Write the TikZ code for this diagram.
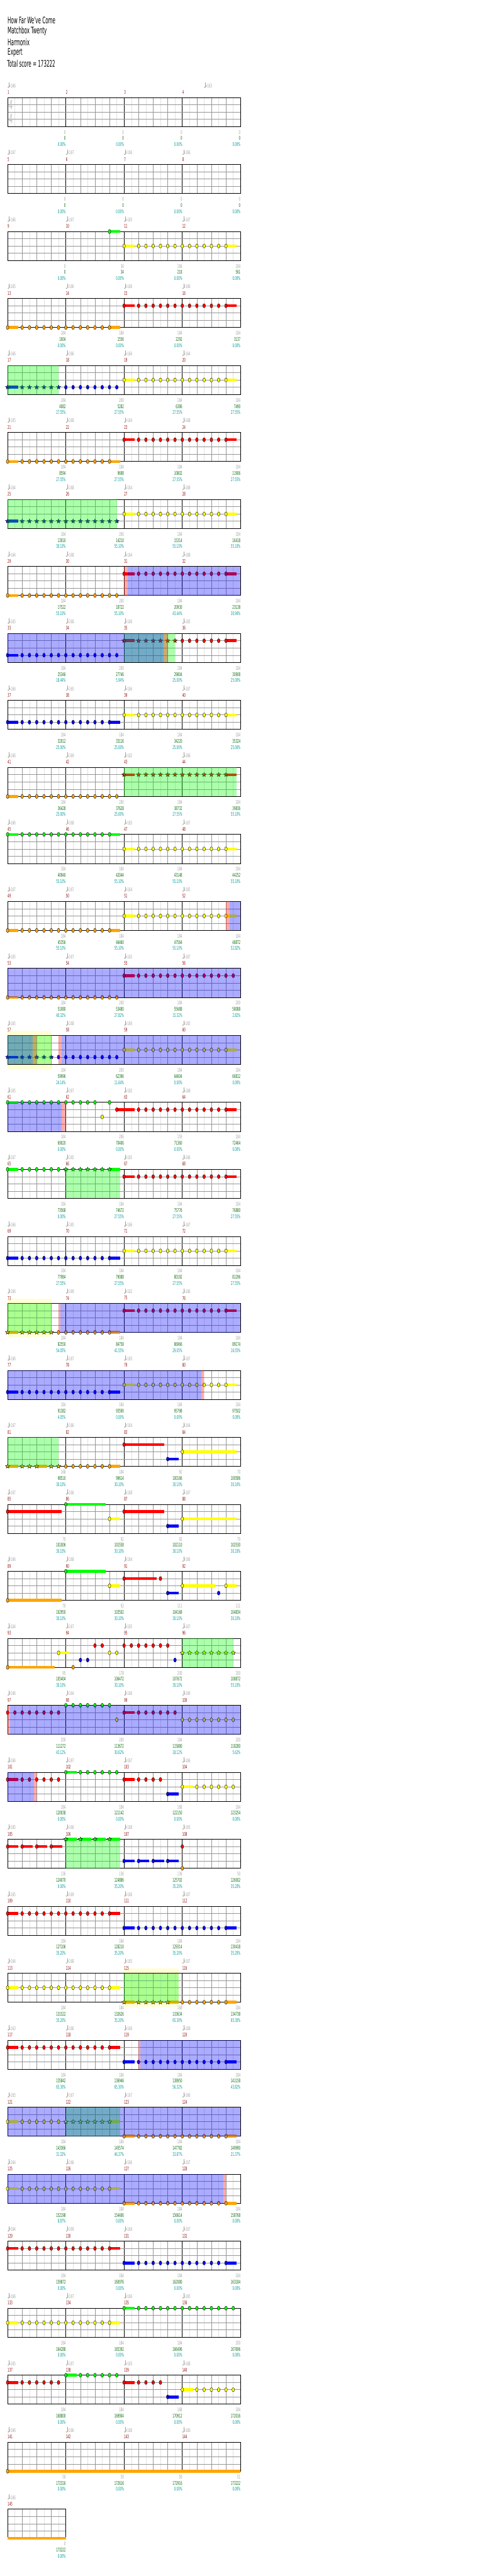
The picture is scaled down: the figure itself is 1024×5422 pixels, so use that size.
\documentclass[tikz,border=0pt]{standalone}
\usepackage{fontspec}
\newfontfamily\chartfont[FakeStretch=0.5,Ligatures=TeXOff]{DejaVu Sans}
\usetikzlibrary{shapes.geometric}

\definecolor{lG}{RGB}{0,255,0}
\definecolor{lR}{RGB}{255,0,0}
\definecolor{lY}{RGB}{255,255,0}
\definecolor{lB}{RGB}{0,0,255}
\definecolor{lO}{RGB}{255,165,0}
\definecolor{barred}{RGB}{140,0,0}
\definecolor{softgray}{RGB}{160,160,160}
\definecolor{sumgreen}{RGB}{0,100,0}
\definecolor{pctcyan}{RGB}{0,150,150}
\definecolor{gridgray}{RGB}{150,150,150}
\definecolor{gridlight}{RGB}{225,225,225}

\def\yG{0}\def\yR{15.25}\def\yY{30.5}\def\yB{45.75}\def\yO{61}

\tikzset{
  fret/.style={draw=black,line width=.5},
  spnote/.style={star,star points=5,star point ratio=2.3,minimum size=9.5,
    inner sep=0,draw=black,line width=.5},
  eighthline/.style={draw=gridlight,line width=.6},
  beatline/.style={draw=gridgray,line width=.6},
  barline/.style={draw=black,line width=.6},
  laneline/.style={draw=gridgray,line width=.8},
  staffframe/.style={draw=black,line width=1},
  titletext/.style={anchor=west,inner sep=0,font=\chartfont\fontsize{19}{19}\selectfont},
  barnum/.style={anchor=west,inner sep=0,text=barred,font=\chartfont\fontsize{10.5}{10.5}\selectfont},
  tempotext/.style={anchor=west,inner sep=0,text=softgray,font=\chartfont\fontsize{10.5}{10.5}\selectfont},
  sc1/.style={anchor=east,inner sep=0,text=softgray,font=\chartfont\fontsize{10.5}{10.5}\selectfont},
  sc2/.style={anchor=east,inner sep=0,text=sumgreen,font=\chartfont\fontsize{10.5}{10.5}\selectfont},
  sc3/.style={anchor=east,inner sep=0,text=pctcyan,font=\chartfont\fontsize{10.5}{10.5}\selectfont},
  timesig/.style={inner sep=0,text=black!25,font=\chartfont\fontsize{27}{27}\selectfont}
}

\newcommand\xat[1]{16+15.3125*(#1)}
\newcommand\nt[2]{\filldraw[fret,fill=l#1] ({\xat{#2}},{\csname y#1\endcsname}) ellipse [x radius=2.9,y radius=4.3];}
\newcommand\st[2]{\node[spnote,fill=l#1] at ({\xat{#2}},{\csname y#1\endcsname}) {};}
\newcommand\sus[3]{\fill[l#1] ({\xat{#2}},{\csname y#1\endcsname-3}) rectangle ({\xat{#3}},{\csname y#1\endcsname+3});}
\newcommand\nts[2]{\foreach \j in {#2}{\nt{#1}{\j}}}
\newcommand\sts[2]{\foreach \j in {#2}{\st{#1}{\j}}}
% a run of fourteen notes, held first and last
\newcommand\run[2]{\sus{#1}{#2}{#2+1.48}\sus{#1}{#2+14}{#2+15.48}%
  \foreach \j in {0,2,3,...,14}{\nt{#1}{#2+\j}}}
\newcommand\runA[2]{\sus{#1}{#2}{#2+1.48}\foreach \j in {0,2,3,...,15}{\nt{#1}{#2+\j}}}

\newcommand\phrasezone[2]{\fill[lG,opacity=.33] (#1,0) rectangle (#2,61);}
\newcommand\actzone[2]{\fill[lB,opacity=.33] (#1,0) rectangle (#2,61);}
\newcommand\edgezone[2]{\fill[lR,opacity=.33] (#1,0) rectangle (#2,61);}
\newcommand\paleyzone[2]{\fill[lY,opacity=.17] (#1,-10) rectangle (#2,71);}

\newcommand\staff[1]{%
  \foreach \m in {1,...,#1}{%
    \foreach \j in {1,3,5,7} \draw[eighthline] ({16+122.5*(\m-1)+15.3125*\j},0) -- ++(0,61);
    \foreach \j in {2,4,6} \draw[beatline] ({16+122.5*(\m-1)+15.3125*\j},0) -- ++(0,61);
    \draw[barline] ({16+122.5*\m},0) -- ++(0,61);
  }
  \foreach \k in {1,2,3} \draw[laneline] (16,15.25*\k) -- ({16+122.5*#1},15.25*\k);
  \draw[staffframe] (16,0) rectangle ({16+122.5*#1},61);}

\newcommand\tempo[2]{%
  \fill[softgray] ({#1+1.5},-21.6) ellipse [x radius=1.5,y radius=1.2];
  \draw[softgray,line width=.5] ({#1+2.8},-21.6) -- ({#1+2.8},-31.5);
  \node[tempotext] at ({#1+2.5},-24.6) {=#2};}
\newcommand\tempos[1]{\foreach \t [count=\c from 0] in {#1}{\tempo{16+122.5*\c}{\t}}}
\newcommand\mnums[2]{\foreach \c in {1,...,#2}
  \node[barnum] at ({16+122.5*(\c-1)},-11) {\the\numexpr#1+\c-1\relax};}
\newcommand\scores[1]{\foreach \a/\b/\p [count=\c] in {#1}{%
  \node[sc1] at ({16+122.5*\c},73) {\a};
  \node[sc2] at ({16+122.5*\c},86) {\b};
  \node[sc3] at ({16+122.5*\c},99) {\p\%};}}

\begin{document}
\begin{tikzpicture}[x=1pt,y=-1pt]
\useasboundingbox (0,0) rectangle (1024,5422);

\node[titletext] at (16,42.7) {How Far We've Come};
\node[titletext] at (16,65.5) {Matchbox Twenty};
\node[titletext] at (16,88.5) {Harmonix};
\node[titletext] at (16,111.3) {Expert};
\node[titletext] at (15,134.3) {Total score = 173222};

% measures 1-4
\begin{scope}[shift={(0,205.3)}]
  \staff{4}
  \node[timesig] at (22.6,15.7) {4};
  \node[timesig] at (22.6,45.4) {4};
  \mnums{1}{4} \tempo{16}{166} \tempo{429.3}{163}
  \scores{0/0/0.00,0/0/0.00,0/0/0.00,0/0/0.00}
\end{scope}

% measures 5-8
\begin{scope}[shift={(0,{205.3+141*1})}]
  \staff{4} \mnums{5}{4} \tempos{167,167,166,166}
  \scores{0/0/0.00,0/0/0.00,0/0/0.00,0/0/0.00}
\end{scope}

% measures 9-12
\begin{scope}[shift={(0,{205.3+141*2})}]
  \staff{4} \mnums{9}{4} \tempos{166,167,165,167}
  \sus{G}{14}{15.48} \nt{G}{14} \run{Y}{16}
  \scores{0/0/0.00,34/34/0.00,184/218/0.00,184/561/0.00}
\end{scope}

% measures 13-16
\begin{scope}[shift={(0,{205.3+141*3})}]
  \staff{4} \mnums{13}{4} \tempos{165,166,166,166}
  \run{O}{0} \run{R}{16}
  \scores{184/1004/0.00,184/1556/0.00,184/2292/0.00,184/3137/0.00}
\end{scope}

% measures 17-20
\begin{scope}[shift={(0,{205.3+141*4})}]
  \staff{4} \mnums{17}{4} \tempos{166,166,166,164}
  \sus{B}{0}{1.48} \sts{B}{0,2,3,...,7} \nts{B}{8,...,15} \run{Y}{16}
  \phrasezone{16}{123.2}
  \scores{184/4082/27.55,200/5282/27.55,184/6386/27.55,184/7490/27.55}
\end{scope}

% measures 21-24
\begin{scope}[shift={(0,{205.3+141*5})}]
  \staff{4} \mnums{21}{4} \tempos{165,168,164,168}
  \run{O}{0} \run{R}{16}
  \scores{184/8594/27.55,184/9698/27.55,184/10802/27.55,184/11906/27.55}
\end{scope}

% measures 25-28
\begin{scope}[shift={(0,{205.3+141*6})}]
  \staff{4} \mnums{25}{4} \tempos{164,168,164,168}
  \sus{B}{0}{1.48} \sts{B}{0,2,3,...,15} \run{Y}{16}
  \phrasezone{16}{245.7}
  \scores{184/13010/30.10,200/14210/55.10,184/15314/55.10,184/16418/55.10}
\end{scope}

% measures 29-32
\begin{scope}[shift={(0,{205.3+141*7})}]
  \staff{4} \mnums{29}{4} \tempos{164,168,164,168}
  \runA{O}{0} \run{R}{16}
  \actzone{269}{506} \edgezone{261}{269}
  \scores{184/17522/55.10,200/18722/55.10,184/20930/43.44,184/23138/30.94}
\end{scope}

% measures 33-36
\begin{scope}[shift={(0,{205.3+141*8})}]
  \staff{4} \mnums{33}{4} \tempos{165,168,166,165}
  \runA{B}{0}
  \sus{R}{16}{17.48} \sus{R}{30}{31.48} \sts{R}{16,18,19,...,23} \nts{R}{24,...,30}
  \phrasezone{261}{368} \actzone{16}{344} \edgezone{344}{353}
  \scores{184/25346/18.44,200/27746/5.94,184/29804/25.00,184/30908/25.00}
\end{scope}

% measures 37-40
\begin{scope}[shift={(0,{205.3+141*9})}]
  \staff{4} \mnums{37}{4} \tempos{166,165,166,167}
  \run{B}{0} \run{Y}{16}
  \scores{184/32012/25.00,184/33116/25.00,184/34220/25.00,184/35324/25.00}
\end{scope}

% measures 41-44
\begin{scope}[shift={(0,{205.3+141*10})}]
  \staff{4} \mnums{41}{4} \tempos{166,169,162,166}
  \runA{O}{0}
  \sus{R}{16}{17.48} \sus{R}{30}{31.48} \sts{R}{16,18,19,...,30}
  \phrasezone{261}{498}
  \scores{184/36428/25.00,200/37628/25.00,184/38732/27.55,184/39836/55.10}
\end{scope}

% measures 45-48
\begin{scope}[shift={(0,{205.3+141*11})}]
  \staff{4} \mnums{45}{4} \tempos{166,168,165,167}
  \run{G}{0} \run{Y}{16}
  \scores{184/40940/55.10,184/42044/55.10,184/43148/55.10,184/44252/55.10}
\end{scope}

% measures 49-52
\begin{scope}[shift={(0,{205.3+141*12})}]
  \staff{4} \mnums{49}{4} \tempos{167,167,164,165}
  \run{O}{0} \run{Y}{16}
  \actzone{483.3}{506} \edgezone{475.7}{483.3}
  \scores{184/45356/55.10,184/46460/55.10,184/47564/55.10,184/48872/52.82}
\end{scope}

% measures 53-56
\begin{scope}[shift={(0,{205.3+141*13})}]
  \staff{4} \mnums{53}{4} \tempos{165,167,165,167}
  \runA{O}{0} \runA{R}{16}
  \actzone{16}{506}
  \scores{184/51080/40.32,200/53480/27.82,184/55688/15.32,200/58088/2.82}
\end{scope}

% measures 57-60
\begin{scope}[shift={(0,{205.3+141*14})}]
  \paleyzone{16}{108}
  \staff{4} \mnums{57}{4} \tempos{165,168,166,165}
  \sus{B}{0}{1.48} \sts{B}{0,2,3,...,6} \nts{B}{7,...,15} \run{Y}{16}
  \phrasezone{16}{108} \actzone{16}{68.3} \edgezone{68.3}{77.3}
  \edgezone{123}{129.7} \actzone{129.7}{506}
  \scores{184/59996/24.14,200/62396/11.64,184/64604/0.00,184/66812/0.00}
\end{scope}

% measures 61-64
\begin{scope}[shift={(0,{205.3+141*15})}]
  \staff{4} \mnums{61}{4} \tempos{165,167,165,168}
  \sus{G}{0}{1.48} \nts{G}{0,2,3,...,12,14} \nt{Y}{13}
  \sus{R}{15}{17.48} \sus{R}{30}{31.48} \nts{R}{15,18,19,...,30}
  \actzone{16}{129.7} \edgezone{129.7}{138.7}
  \scores{184/69020/0.00,206/70406/0.00,159/71360/0.00,184/72464/0.00}
\end{scope}

% measures 65-68
\begin{scope}[shift={(0,{205.3+141*16})}]
  \staff{4} \mnums{65}{4} \tempos{167,165,165,166}
  \sus{G}{0}{1.48} \sus{G}{14}{15.48} \nts{G}{0,2,3,...,7} \sts{G}{8,...,14}
  \run{R}{16}
  \phrasezone{138.7}{253}
  \scores{184/73568/0.00,184/74672/27.55,184/75776/27.55,184/76880/27.55}
\end{scope}

% measures 69-72
\begin{scope}[shift={(0,{205.3+141*17})}]
  \staff{4} \mnums{69}{4} \tempos{166,165,166,167}
  \run{B}{0} \run{Y}{16}
  \scores{184/77984/27.55,184/79088/27.55,184/80192/27.55,184/81296/27.55}
\end{scope}

% measures 73-76
\begin{scope}[shift={(0,{205.3+141*18})}]
  \paleyzone{16}{108}
  \staff{4} \mnums{73}{4} \tempos{166,169,162,166}
  \sus{O}{0}{1.48} \sus{O}{14}{15.48} \sts{O}{0,2,3,...,6} \nts{O}{7,...,14}
  \run{R}{16}
  \phrasezone{16}{108} \edgezone{123}{127.7} \actzone{127.7}{506}
  \scores{184/82550/54.05,184/84758/41.55,184/86966/29.05,184/89174/16.55}
\end{scope}

% measures 77-80
\begin{scope}[shift={(0,{205.3+141*19})}]
  \staff{4} \mnums{77}{4} \tempos{166,167,165,167}
  \run{B}{0} \run{Y}{16}
  \actzone{16}{423.3} \edgezone{423.3}{429.3}
  \scores{184/91382/4.05,184/93590/0.00,184/95798/0.00,184/97502/0.00}
\end{scope}

% measures 81-84
\begin{scope}[shift={(0,{205.3+141*20})}]
  \staff{4} \mnums{81}{4} \tempos{167,166,164,164}
  \sus{O}{0}{1.48} \sus{O}{4}{5.48} \sus{O}{14}{15.48}
  \sts{O}{0,2,3,4,6,7} \nts{O}{8,...,14}
  \sus{R}{16}{21.48} \nt{R}{16} \sus{B}{22}{23.48} \nt{B}{22}
  \sus{Y}{24}{31.48} \nt{Y}{24}
  \phrasezone{16}{123.2}
  \scores{168/98510/30.10,184/99614/30.10,92/100166/30.10,70/100586/30.10}
\end{scope}

% measures 85-88
\begin{scope}[shift={(0,{205.3+141*21})}]
  \staff{4} \mnums{85}{4} \tempos{167,166,168,167}
  \sus{R}{0}{7.46} \nt{R}{0} \sus{G}{8}{13.48} \nt{G}{8}
  \sus{Y}{14}{15.48} \nt{Y}{14} \sus{R}{16}{21.48} \nt{R}{16}
  \sus{B}{22}{23.48} \nt{B}{22} \sus{Y}{24}{31.48} \nt{Y}{24}
  \scores{70/101006/30.10,92/101558/30.10,92/102110/30.10,70/102530/30.10}
\end{scope}

% measures 89-92
\begin{scope}[shift={(0,{205.3+141*22})}]
  \staff{4} \mnums{89}{4} \tempos{166,168,164,166}
  \sus{O}{0}{7.46} \nt{O}{0} \sus{G}{8}{13.48} \nt{G}{8}
  \sus{Y}{14}{15.48} \nt{Y}{14} \sus{R}{16}{20.48} \nts{R}{16,21}
  \sus{B}{22}{23.48} \nts{B}{22,29} \sus{Y}{24}{28.48} \sus{Y}{30}{31.48} \nts{Y}{24,30}
  \scores{70/102950/30.10,92/103502/30.10,111/104168/30.10,111/104834/30.10}
\end{scope}

% measures 93-96
\begin{scope}[shift={(0,{205.3+141*23})}]
  \staff{4} \mnums{93}{4} \tempos{164,167,165,167}
  \sus{O}{0}{6.48} \nts{O}{0,9} \sus{Y}{7}{8.47} \nts{Y}{7,14,15}
  \nts{B}{10,11,23} \nts{R}{12,13,16,17,...,22} \sts{Y}{24,...,31}
  \phrasezone{383.3}{490.7}
  \scores{95/105404/30.10,178/106472/30.10,200/107672/30.10,200/108872/55.10}
\end{scope}

% measures 97-100
\begin{scope}[shift={(0,{205.3+141*24})}]
  \staff{4} \mnums{97}{4} \tempos{166,164,166,166}
  \nts{R}{0,...,7} \nts{G}{8,...,14} \nt{Y}{15}
  \sus{R}{16}{17.48} \nts{R}{16,18,19,...,23} \nts{Y}{24,...,31}
  \edgezone{16}{20.7} \actzone{20.7}{506}
  \scores{200/111272/43.12,200/113672/30.62,184/115880/18.12,200/118280/5.62}
\end{scope}

% measures 101-104
\begin{scope}[shift={(0,{205.3+141*25})}]
  \staff{4} \mnums{101}{4} \tempos{166,167,167,166}
  \sus{R}{0}{1.48} \nts{R}{0,2,3,...,7} \sus{G}{8}{9.48} \nts{G}{8,10,11,...,15}
  \sus{R}{16}{17.48} \nts{R}{16,18,19,20,21} \sus{B}{22}{23.48} \nt{B}{22}
  \sus{Y}{24}{25.48} \nts{Y}{24,26,27,...,31}
  \actzone{16}{71} \edgezone{71}{77.3}
  \scores{184/120038/0.00,184/121142/0.00,168/122150/0.00,184/123254/0.00}
\end{scope}

% measures 105-108
\begin{scope}[shift={(0,{205.3+141*26})}]
  \staff{4} \mnums{105}{4} \tempos{165,166,168,165}
  \foreach \i in {0,2,4,6}{\sus{R}{\i}{\i+1.48}\nt{R}{\i}}
  \foreach \i in {8,10,12,14}{\sus{G}{\i}{\i+1.48}\st{G}{\i}}
  \foreach \i in {16,18,20,22}{\sus{B}{\i}{\i+1.48}\nt{B}{\i}}
  \nt{R}{24} \nt{O}{24}
  \phrasezone{138.7}{253}
  \scores{136/124070/0.00,136/124886/35.20,136/125702/35.20,50/126002/35.20}
\end{scope}

% measures 109-112
\begin{scope}[shift={(0,{205.3+141*27})}]
  \staff{4} \mnums{109}{4} \tempos{165,169,166,167}
  \run{R}{0} \run{B}{16}
  \scores{184/127106/35.20,184/128210/35.20,184/129314/35.20,184/130418/35.20}
\end{scope}

% measures 113-116
\begin{scope}[shift={(0,{205.3+141*28})}]
  \paleyzone{261}{375.7}
  \staff{4} \mnums{113}{4} \tempos{164,168,165,167}
  \run{Y}{0}
  \sus{O}{16}{17.48} \sus{O}{22}{23.48} \sus{O}{30}{31.48}
  \sts{O}{16,18,19,...,22} \nts{O}{24,...,30}
  \phrasezone{261}{375.7}
  \scores{184/131522/35.20,184/132626/35.20,168/133634/65.30,184/134738/65.30}
\end{scope}

% measures 117-120
\begin{scope}[shift={(0,{205.3+141*29})}]
  \staff{4} \mnums{117}{4} \tempos{163,166,166,168}
  \run{R}{0} \run{B}{16}
  \edgezone{291.7}{295} \actzone{295}{506}
  \scores{184/135842/65.30,184/136946/65.30,184/138950/56.32,184/141158/43.82}
\end{scope}

% measures 121-124
\begin{scope}[shift={(0,{205.3+141*30})}]
  \staff{4} \mnums{121}{4} \tempos{165,167,167,166}
  \sus{Y}{0}{1.48} \sus{Y}{14}{15.48} \nts{Y}{0,2,3,...,7} \sts{Y}{8,...,14}
  \run{O}{16}
  \phrasezone{138.7}{253} \actzone{16}{506}
  \scores{184/143366/31.32,184/145574/46.37,184/147782/33.87,184/149990/21.37}
\end{scope}

% measures 125-128
\begin{scope}[shift={(0,{205.3+141*31})}]
  \staff{4} \mnums{125}{4} \tempos{164,166,166,167}
  \run{Y}{0} \run{O}{16}
  \actzone{16}{470} \edgezone{470}{475}
  \scores{184/152198/8.87,184/154406/0.00,184/156614/0.00,184/158768/0.00}
\end{scope}

% measures 129-132
\begin{scope}[shift={(0,{205.3+141*32})}]
  \staff{4} \mnums{129}{4} \tempos{164,169,164,167}
  \run{R}{0} \run{B}{16}
  \scores{184/159872/0.00,184/160976/0.00,184/162080/0.00,184/163184/0.00}
\end{scope}

% measures 133-136
\begin{scope}[shift={(0,{205.3+141*33})}]
  \staff{4} \mnums{133}{4} \tempos{166,167,166,165}
  \run{Y}{0} \runA{G}{16}
  \scores{184/164288/0.00,184/165392/0.00,184/166496/0.00,200/167696/0.00}
\end{scope}

% measures 137-140
\begin{scope}[shift={(0,{205.3+141*34})}]
  \staff{4} \mnums{137}{4} \tempos{165,167,165,168}
  \sus{R}{0}{1.48} \nts{R}{0,2,3,...,7} \sus{G}{8}{9.48} \nts{G}{8,10,11,...,15}
  \sus{R}{16}{17.48} \nts{R}{16,18,19,20,21} \sus{B}{22}{23.48} \nt{B}{22}
  \sus{Y}{24}{25.48} \nts{Y}{24,26,27,...,31}
  \scores{184/168800/0.00,184/169904/0.00,168/170912/0.00,184/172016/0.00}
\end{scope}

% measures 141-144
\begin{scope}[shift={(0,{205.3+141*35})}]
  \staff{4} \mnums{141}{4} \tempos{166,166,166,166}
  \sus{O}{0}{32} \nt{O}{0}
  \scores{50/172316/0.00,50/172616/0.00,50/172916/0.00,51/173222/0.00}
\end{scope}

% measure 145
\begin{scope}[shift={(0,{205.3+141*36})}]
  \staff{1} \mnums{145}{1} \tempos{166}
  \sus{O}{0}{8}
  \scores{0/173222/0.00}
\end{scope}
\end{tikzpicture}
\end{document}
